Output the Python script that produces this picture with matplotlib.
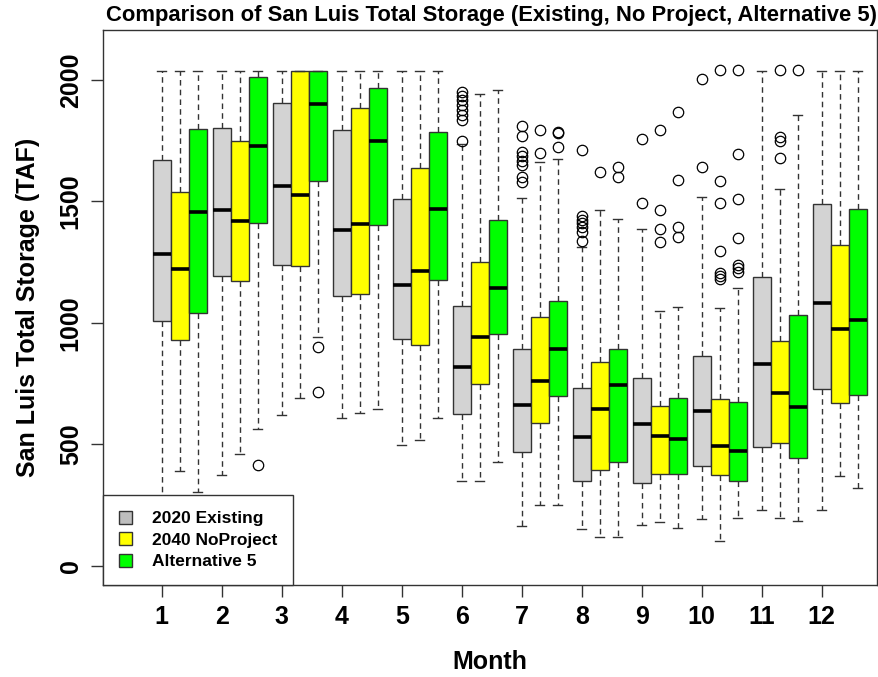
import matplotlib.pyplot as plt
from matplotlib.patches import Patch
import numpy as np

plt.rcParams['font.family'] = ['Liberation Sans', 'DejaVu Sans']
plt.rcParams['font.weight'] = 'bold'

months = list(range(1, 13))
series_names = ['2020 Existing', '2040 NoProject', 'Alternative 5']

# 2020 Existing
ex_lo = [250, 376, 621, 607, 498, 350, 166, 152, 167, 192, 232, 232]
ex_q1 = [1008, 1194, 1238, 1111, 933, 627, 469, 350, 340, 410, 490, 729]
ex_med = [1283, 1466, 1564, 1382, 1155, 819, 661, 532, 583, 636, 830, 1081]
ex_q3 = [1669, 1800, 1906, 1795, 1510, 1071, 893, 733, 773, 862, 1190, 1489]
ex_hi = [2037, 2037, 2037, 2037, 2037, 1735, 1515, 1314, 1386, 1519, 2037, 2037]
ex_out = [[], [], [], [], [],
          [1950, 1935, 1915, 1895, 1875, 1855, 1835, 1750],
          [1810, 1770, 1705, 1685, 1665, 1648, 1600, 1580],
          [1711, 1440, 1425, 1410, 1395, 1375, 1335],
          [1755, 1492], [2002, 1640], [], []]

# 2040 NoProject
np_lo = [389, 462, 690, 631, 518, 350, 252, 118, 182, 104, 197, 371]
np_q1 = [928, 1171, 1234, 1120, 908, 750, 587, 395, 380, 376, 507, 670]
np_med = [1223, 1420, 1525, 1407, 1213, 942, 760, 646, 533, 494, 710, 976]
np_q3 = [1540, 1747, 2037, 1885, 1638, 1249, 1026, 839, 659, 686, 927, 1320]
np_hi = [2037, 2037, 2037, 2037, 2037, 1940, 1662, 1464, 1050, 1060, 1551, 2037]
np_out = [[], [], [], [], [], [],
          [1793, 1700], [1620],
          [1794, 1464, 1386, 1333],
          [2040, 1584, 1495, 1296, 1207, 1193, 1179],
          [2040, 1763, 1750, 1677], []]

# Alternative 5
a5_lo = [304, 562, 942, 647, 607, 428, 252, 118, 156, 197, 184, 321]
a5_q1 = [1041, 1411, 1585, 1403, 1176, 953, 699, 429, 380, 350, 444, 705]
a5_med = [1455, 1728, 1902, 1748, 1470, 1145, 893, 745, 522, 473, 655, 1011]
a5_q3 = [1796, 2013, 2037, 1968, 1787, 1425, 1089, 891, 690, 675, 1031, 1468]
a5_hi = [2037, 2037, 2037, 2037, 2037, 1958, 1674, 1427, 1067, 1144, 1855, 2037]
a5_out = [[], [417], [901, 717], [], [], [],
          [1787, 1780, 1725], [1643, 1601],
          [1869, 1590, 1396, 1355],
          [2040, 1695, 1508, 1351, 1238, 1225, 1211],
          [2040], []]

box_colors = ['#D3D3D3', '#FFFF00', '#00FF00']
legend_colors = ['#BEBEBE', '#FFFF00', '#00FF00']
offsets = [0.0, 0.3, 0.6]


def make_stats(lo, q1, med, q3, hi, out):
    return [dict(whislo=lo[i], q1=q1[i], med=med[i], q3=q3[i], whishi=hi[i],
                 fliers=out[i]) for i in range(len(lo))]


all_stats = [make_stats(ex_lo, ex_q1, ex_med, ex_q3, ex_hi, ex_out),
             make_stats(np_lo, np_q1, np_med, np_q3, np_hi, np_out),
             make_stats(a5_lo, a5_q1, a5_med, a5_q3, a5_hi, a5_out)]

fig = plt.figure(figsize=(8.79, 6.77), dpi=100)
ax = fig.add_axes([103 / 879, 92 / 677, 774 / 879, 555 / 677])

for stats, col, off in zip(all_stats, box_colors, offsets):
    pos = np.array(months) + off
    ax.bxp(stats, positions=pos, widths=0.3, capwidths=0.15, patch_artist=True,
           boxprops=dict(facecolor=col, edgecolor='#333333', linewidth=1.0),
           medianprops=dict(color='black', linewidth=2.6, solid_capstyle='butt'),
           whiskerprops=dict(color='#333333', linewidth=1.0, linestyle=(0, (4, 3))),
           capprops=dict(color='#333333', linewidth=1.0),
           flierprops=dict(marker='o', markerfacecolor='none', markeredgecolor='black',
                           markersize=7.5, markeredgewidth=0.9, linestyle='none'))

ax.set_xlim(0.02, 12.92)
ax.set_ylim(-78, 2205)
ax.set_xticks(months)
ax.set_xticklabels([str(m) for m in months])
ax.set_yticks([0, 500, 1000, 1500, 2000])
ax.tick_params(axis='both', labelsize=18, length=8.5, width=1, color='#333333')
ax.tick_params(axis='x', pad=6)
ax.tick_params(axis='y', labelrotation=90, pad=6)
for lab in ax.get_yticklabels():
    lab.set_va('center')
for sp in ax.spines.values():
    sp.set_color('#333333')
    sp.set_linewidth(1.0)

ax.set_xlabel('Month', fontsize=18, fontweight='bold', va='center')
ax.xaxis.set_label_coords(0.5, (585 - 662) / 555)
ax.set_ylabel('San Luis Total Storage (TAF)', fontsize=18, fontweight='bold', va='center')
ax.yaxis.set_label_coords((28 - 103) / 774, 0.5)

fig.text(492 / 879, 1 - 16 / 677, 'Comparison of San Luis Total Storage (Existing, No Project, Alternative 5)',
         ha='center', va='center', fontsize=15.8, fontweight='bold')

handles = [Patch(facecolor=c, edgecolor='#333333', linewidth=1.0) for c in legend_colors]
leg = ax.legend(handles, series_names, loc='lower left', bbox_to_anchor=(0, 0),
                borderaxespad=0, fancybox=False, edgecolor='#333333', framealpha=1,
                prop=dict(size=12.5, weight='bold'), handlelength=0.75, handleheight=0.75,
                handletextpad=1.15, labelspacing=0.35, borderpad=0.9)
leg.get_frame().set_linewidth(1.0)

fig.savefig('out.png', dpi=100)
